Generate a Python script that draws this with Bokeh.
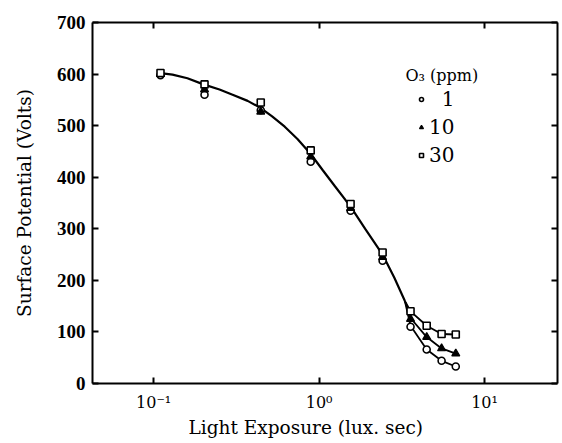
from bokeh.plotting import figure
from bokeh.models import (LinearAxis, LogAxis, FixedTicker, CustomJSTickFormatter,
                          Range1d, Legend, LegendItem, Label, Title)
from bokeh.embed import file_html
from bokeh.resources import INLINE

# Measured exposures (lux.sec) and surface potentials (V) for three ozone levels
exposure = [0.11, 0.203, 0.444, 0.89, 1.55, 2.42, 3.57, 4.47, 5.5, 6.7]
v_1ppm = [598, 560, 530, 430, 335, 238, 110, 66, 44, 33]
v_10ppm = [600, 570, 527, 440, 340, 245, 125, 90, 68, 58]
v_30ppm = [602, 580, 545, 452, 348, 254, 140, 112, 96, 95]

# Common decay curve, and the three tails where the ozone levels separate
curve_x = [0.11, 0.13, 0.16, 0.2, 0.25, 0.3, 0.37, 0.44, 0.52, 0.62, 0.74,
           0.89, 1.05, 1.25, 1.55, 1.9, 2.42, 2.85, 3.3]
curve_y = [602, 599, 592, 580, 570, 560, 548, 535, 518, 498, 474,
           445, 414, 382, 343, 300, 250, 205, 160]
tail_x = [3.3, 3.57, 4.47, 5.5, 6.7]
tail_1ppm = [160, 112, 66, 44, 33]
tail_10ppm = [160, 127, 90, 68, 58]
tail_30ppm = [160, 140, 112, 96, 95]

y_ticks = [0, 100, 200, 300, 400, 500, 600, 700]
x_ticks = [0.1, 1, 10]
legend_title = "O\u2083 (ppm)"
legend_labels = ["\u20071", "10", "30"]
x_title = "Light Exposure (lux. sec)"
y_title = "Surface Potential (Volts)"

FONT = "DejaVu Serif"
NUM_FONT = "Liberation Serif"

p = figure(width=562, height=443, x_axis_type="log",
           x_range=Range1d(0.0427, 27.6), y_range=Range1d(0, 700),
           output_backend="svg", toolbar_location=None,
           min_border_left=92, min_border_right=5, min_border_top=22,
           min_border_bottom=60, x_axis_location=None, y_axis_location=None)
p.grid.visible = False
p.outline_line_color = None
p.background_fill_color = "white"
p.border_fill_color = "white"

sup = CustomJSTickFormatter(code="""
const m = {'-1':'10\u207b\u00b9','0':'10\u2070','1':'10\u00b9'};
return m[String(Math.round(Math.log10(tick)))];
""")

def style(ax, labels=True):
    ax.axis_line_width = 2
    ax.axis_line_color = "black"
    ax.major_tick_in = 6
    ax.major_tick_out = 0
    ax.major_tick_line_width = 2
    ax.major_tick_line_color = "black"
    ax.minor_tick_line_color = None
    ax.major_label_text_color = "black"
    ax.axis_label_text_color = "black"
    if not labels:
        ax.major_label_text_font_size = "0px"
        ax.major_label_text_color = None

bottom = LogAxis(ticker=FixedTicker(ticks=x_ticks), formatter=sup)
style(bottom)
bottom.major_label_text_font = FONT
bottom.major_label_text_font_size = "16px"
bottom.major_label_standoff = 9
p.add_layout(bottom, "below")

# X-axis title, set slightly left of the frame centre
p.add_layout(Title(text=x_title, align="left", offset=96,
                   text_font=FONT, text_font_size="18.5px",
                   text_font_style="normal", text_color="black",
                   standoff=0), "below")

top = LogAxis(ticker=FixedTicker(ticks=x_ticks))
style(top, labels=False)
p.add_layout(top, "above")

left = LinearAxis(ticker=FixedTicker(ticks=y_ticks), axis_label=y_title)
style(left)
left.major_label_text_font = NUM_FONT
left.major_label_text_font_size = "19px"
left.major_label_text_font_style = "bold"
left.major_label_standoff = 7
left.axis_label_text_font = FONT
left.axis_label_text_font_size = "18.5px"
left.axis_label_text_font_style = "normal"
left.axis_label_standoff = 19
p.add_layout(left, "left")

right = LinearAxis(ticker=FixedTicker(ticks=y_ticks))
style(right, labels=False)
p.add_layout(right, "right")

# Curves
p.line(curve_x, curve_y, line_color="black", line_width=2.2)
for ty in (tail_1ppm, tail_10ppm, tail_30ppm):
    p.line(tail_x, ty, line_color="black", line_width=1.8)

# Data points
r1 = p.scatter(exposure, v_1ppm, marker="circle", size=7, line_color="black",
               line_width=1.6, fill_color="white")
r10 = p.scatter(exposure, v_10ppm, marker="triangle", size=8, line_color="black",
                line_width=1.2, fill_color="black")
r30 = p.scatter(exposure, v_30ppm, marker="square", size=7, line_color="black",
                line_width=1.6, fill_color="white")

legend = Legend(items=[LegendItem(label=legend_labels[0], renderers=[r1]),
                       LegendItem(label=legend_labels[1], renderers=[r10]),
                       LegendItem(label=legend_labels[2], renderers=[r30])],
                location=(324, 216))
legend.label_text_font = FONT
legend.label_text_font_size = "20px"
legend.label_text_color = "black"
legend.label_height = 22
legend.glyph_width = 10
legend.glyph_height = 12
legend.spacing = 4
legend.label_standoff = 3
legend.border_line_color = None
legend.background_fill_alpha = 0
legend.padding = 0
legend.margin = 0
p.add_layout(legend, "center")

p.add_layout(Label(x=313, y=308, x_units="screen", y_units="screen",
                   text=legend_title, text_font=FONT, text_font_size="16px",
                   text_color="black", text_align="left",
                   text_baseline="middle"))

open("out.html", "w").write(file_html(p, INLINE))
